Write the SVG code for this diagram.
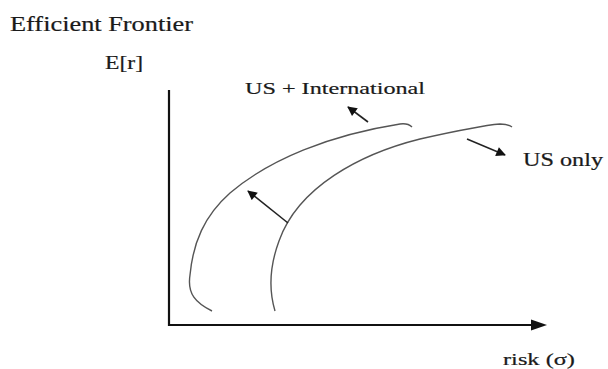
<svg xmlns="http://www.w3.org/2000/svg" width="608" height="369" viewBox="0 0 608 369">
<style>
text{font-family:"Liberation Serif","Times New Roman",serif;fill:#1a1a1a;stroke:#1a1a1a;stroke-width:0.2}
.curve{fill:none;stroke:#555;stroke-width:1.4}
.arr{stroke:#222;stroke-width:1.6;marker-end:url(#ah)}
.axis{stroke:#111;stroke-width:2.2;fill:none}
</style>
<defs>
<marker id="ah" viewBox="0 0 10 10" refX="9" refY="5" markerWidth="6.5" markerHeight="6" orient="auto" markerUnits="strokeWidth">
<path d="M0,0 L10,5 L0,10 z" fill="#111"/>
</marker>
</defs>
<rect width="608" height="369" fill="#fff"/>
<text x="10" y="31" font-size="20" textLength="183" lengthAdjust="spacingAndGlyphs">Efficient Frontier</text>
<text x="105" y="69" font-size="18" textLength="38" lengthAdjust="spacingAndGlyphs">E[r]</text>
<g id="axes">
<path class="axis" d="M169,90 V325 H533"/>
<path d="M531,319.5 L547,325 L531,330.5 z" fill="#111"/>
</g>
<text x="503" y="365" font-size="17" textLength="72" lengthAdjust="spacingAndGlyphs">risk (σ)</text>
<g id="frontier-intl">
<path class="curve" d="M212,311 C196,303 187,294 190,275 C193,243 204,216 230,193 C270,159 330,135 400,124 Q408,123 412,127"/>
<text x="245" y="94" font-size="17" textLength="180" lengthAdjust="spacingAndGlyphs">US + International</text>
</g>
<g id="frontier-us">
<path class="curve" d="M275,311 C269,291 269,268 279,241 C298,187 360,154 420,139 C460,130 488,125 500,124 Q508,124 512,127"/>
<text x="523" y="166" font-size="18" textLength="80" lengthAdjust="spacingAndGlyphs">US only</text>
</g>
<g id="connectors">
<line class="arr" x1="368" y1="122" x2="348" y2="107"/>
<line class="arr" x1="288" y1="223" x2="248" y2="191"/>
<line class="arr" x1="467" y1="139" x2="505" y2="155"/>
</g>
</svg>
